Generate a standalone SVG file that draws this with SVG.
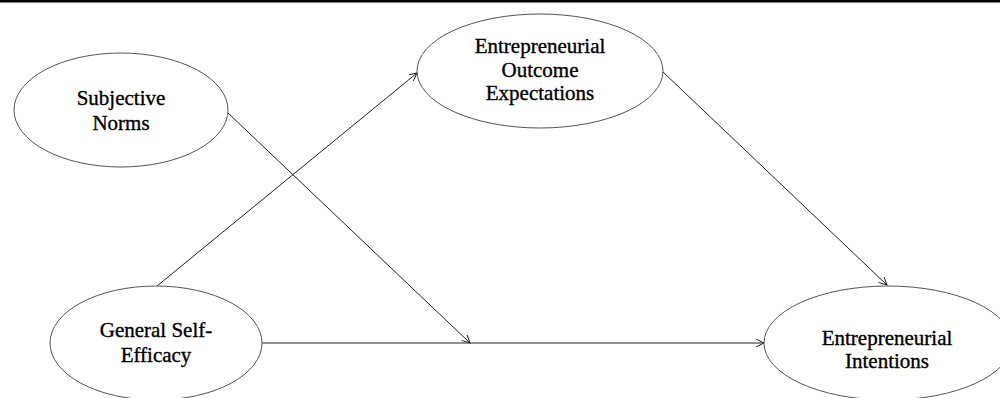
<svg xmlns="http://www.w3.org/2000/svg" width="1000" height="398" viewBox="0 0 1000 398">
  <style>
    .node ellipse { fill: #ffffff; stroke: #555555; stroke-width: 1; }
    .node text { font-family: "Liberation Serif", "Times New Roman", serif; font-size: 21px; fill: #000000; stroke: #000000; stroke-width: 0.35; text-anchor: middle; }
    .conn line { stroke: #222222; stroke-width: 1; fill: none; }
  </style>
  <defs>
    <marker id="arrow" markerUnits="userSpaceOnUse" markerWidth="10" markerHeight="10" refX="8" refY="4" orient="auto">
      <path d="M0,0 L8,4 L0,8" fill="none" stroke="#222222" stroke-width="1"/>
    </marker>
  </defs>
  <rect width="1000" height="398" fill="#ffffff"/>
  <line x1="0" y1="1.25" x2="1000" y2="1.25" stroke="#000000" stroke-width="2.5"/>

  <g id="conn" class="conn">
    <line x1="228" y1="113" x2="470" y2="343" marker-end="url(#arrow)"/>
    <line x1="157" y1="286" x2="417" y2="73" marker-end="url(#arrow)"/>
    <line x1="663" y1="72" x2="887" y2="285" marker-end="url(#arrow)"/>
    <line x1="262" y1="343" x2="764" y2="343" marker-end="url(#arrow)"/>
  </g>

  <g id="subjective-norms" class="node">
    <ellipse cx="121" cy="110" rx="107" ry="57"/>
    <text x="121" y="105">Subjective</text>
    <text x="121" y="130">Norms</text>
  </g>

  <g id="outcome-expectations" class="node">
    <ellipse cx="540" cy="71" rx="123" ry="57"/>
    <text x="540" y="53">Entrepreneurial</text>
    <text x="540" y="77">Outcome</text>
    <text x="540" y="100">Expectations</text>
  </g>

  <g id="self-efficacy" class="node">
    <ellipse cx="156" cy="343" rx="106" ry="57"/>
    <text x="156" y="337">General Self-</text>
    <text x="156" y="362">Efficacy</text>
  </g>

  <g id="intentions" class="node">
    <ellipse cx="888" cy="343" rx="124" ry="57"/>
    <text x="887" y="345">Entrepreneurial</text>
    <text x="887" y="368">Intentions</text>
  </g>
</svg>
